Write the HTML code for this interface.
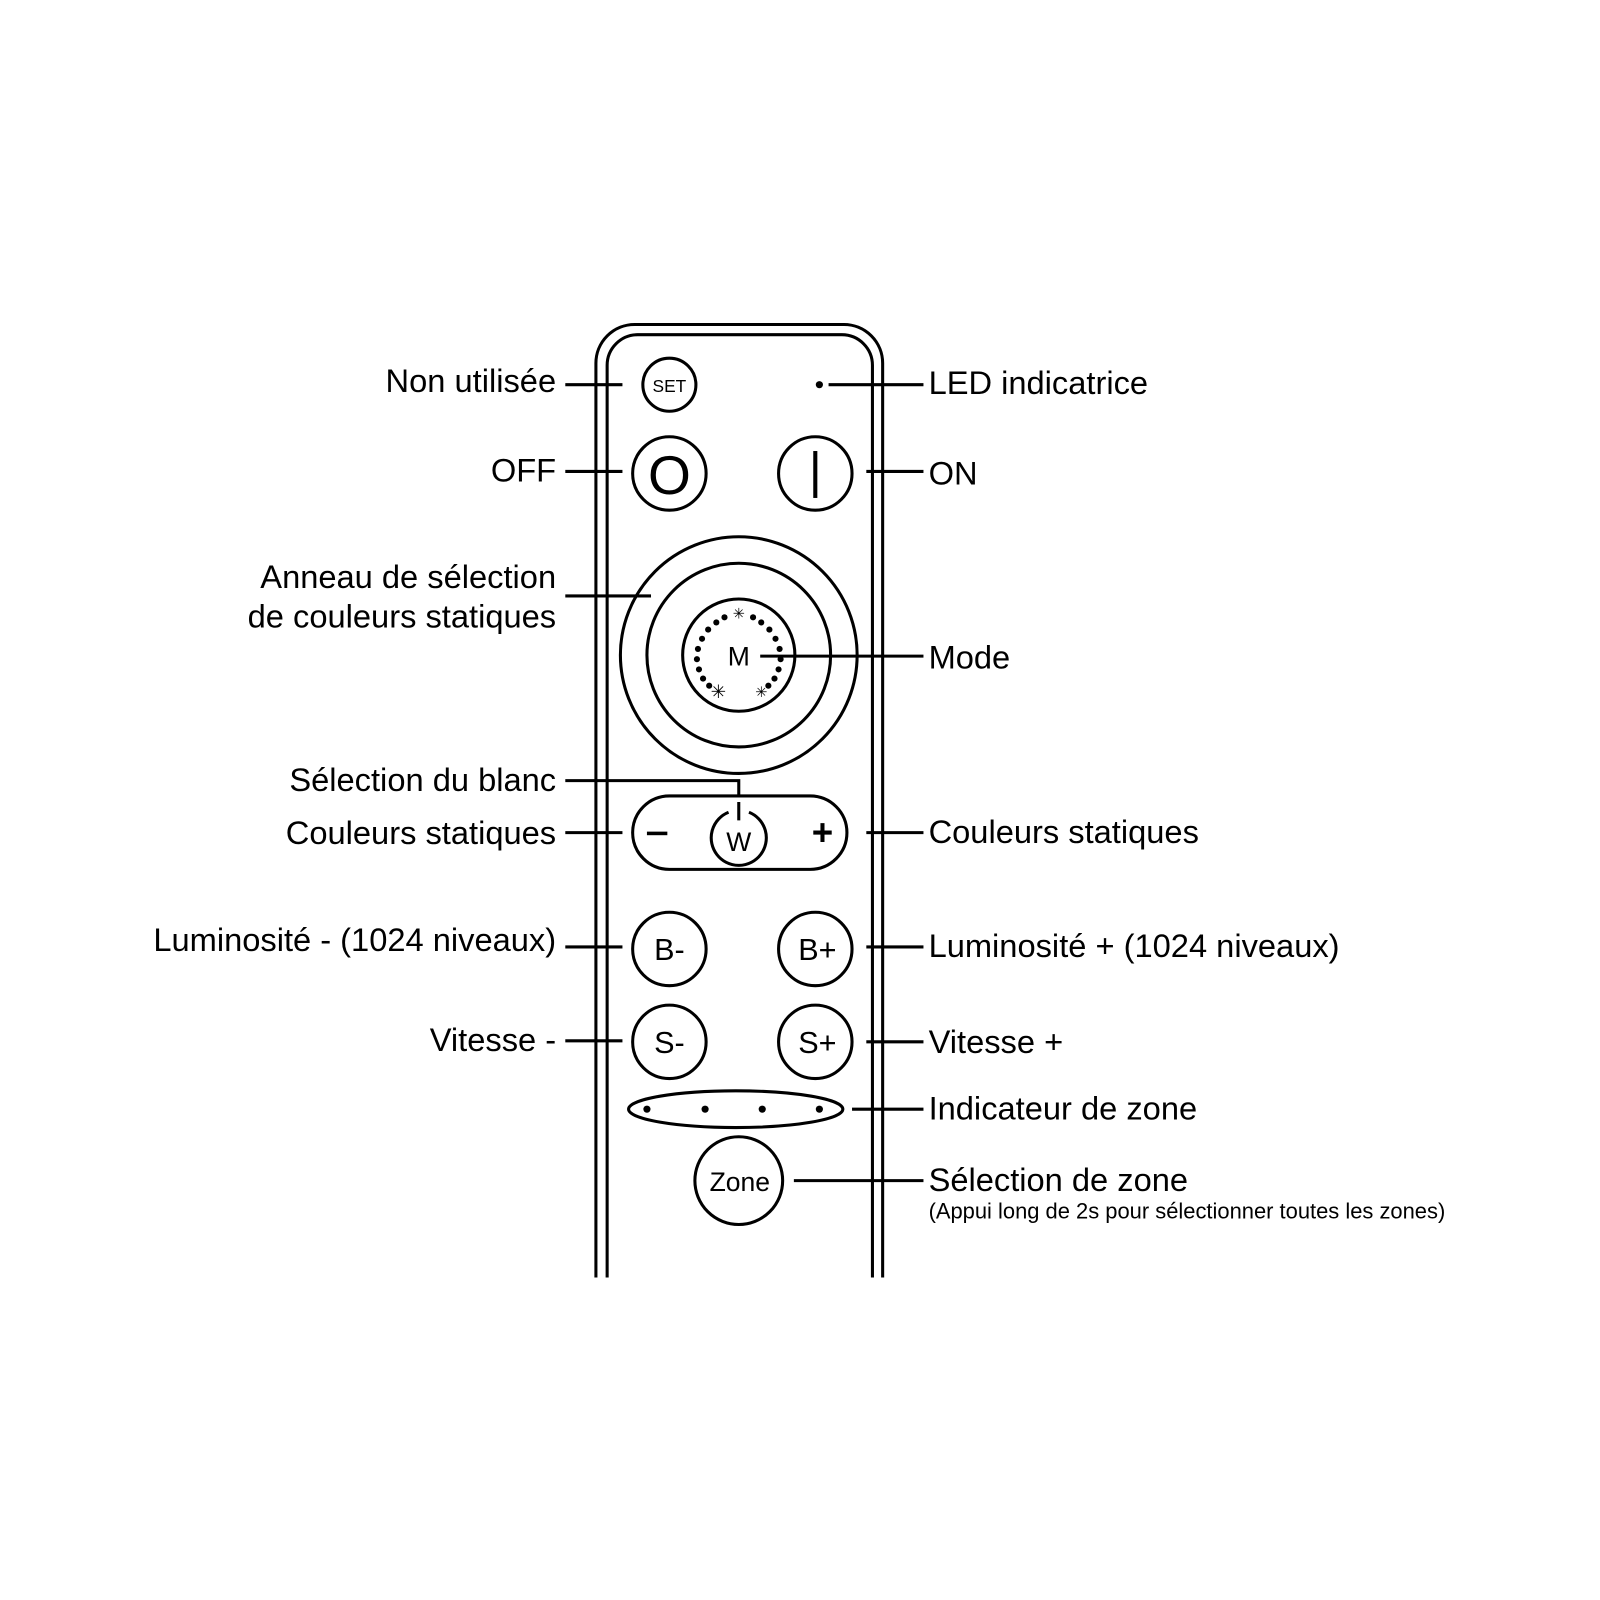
<!DOCTYPE html>
<html><head><style>body{margin:0;background:#fff}svg{display:block}text{font-family:"Liberation Sans",Arial,sans-serif;fill:#000}</style></head>
<body>
<svg width="1600" height="1600" viewBox="0 0 1600 1600" xmlns="http://www.w3.org/2000/svg">
<g transform="scale(1.0204)">
<g fill="none" stroke="#000" stroke-width="3">
<path d="M584 1252 V356 A38 38 0 0 1 622 318 H827 A38 38 0 0 1 865 356 V1252"/>
<path d="M595 1252 V358 A30 30 0 0 1 625 328 H825 A30 30 0 0 1 855 358 V1252"/>
<circle cx="656" cy="377" r="26"/>
<circle cx="656" cy="464" r="36"/>
<circle cx="799" cy="464" r="36"/>
<circle cx="724" cy="642" r="116"/>
<circle cx="724" cy="642" r="90"/>
<circle cx="724" cy="642" r="55"/>
<rect x="620" y="780" width="210" height="72" rx="36"/>
<path d="M714 796 A27 27 0 1 0 734 796"/>
<circle cx="656" cy="930" r="36"/>
<circle cx="799" cy="930" r="36"/>
<circle cx="656" cy="1021" r="36"/>
<circle cx="799" cy="1021" r="36"/>
<ellipse cx="721" cy="1087" rx="105" ry="18"/>
<circle cx="724" cy="1157" r="43"/>
<path d="M554 377H610M554 462H610M554 584H638M554 765H724V780M724 786V804M554 816H610M554 928H610M554 1020H610"/>
<path d="M812 377H905M849 462H905M745 643H905M849 816H905M849 928H905M849 1021H905M835 1087H905M778 1157H905"/>
</g>
<circle cx="803" cy="377" r="3.5"/>
<g>
<circle cx="634" cy="1087" r="3.5"/><circle cx="691" cy="1087" r="3.5"/><circle cx="747" cy="1087" r="3.5"/><circle cx="803" cy="1087" r="3.5"/>
</g>
<g fill="#000">
<circle cx="710" cy="605" r="3"/><circle cx="702" cy="610" r="3"/><circle cx="694" cy="617" r="3"/><circle cx="688" cy="626" r="3"/><circle cx="684" cy="636" r="3"/><circle cx="683" cy="646" r="3"/><circle cx="685" cy="656" r="3"/><circle cx="689" cy="665" r="3"/><circle cx="695" cy="672" r="3"/>
<circle cx="738" cy="605" r="3"/><circle cx="746" cy="610" r="3"/><circle cx="754" cy="617" r="3"/><circle cx="760" cy="626" r="3"/><circle cx="764" cy="636" r="3"/><circle cx="765" cy="646" r="3"/><circle cx="763" cy="656" r="3"/><circle cx="759" cy="665" r="3"/><circle cx="753" cy="672" r="3"/>
</g>
<text x="724" y="606" font-size="14" text-anchor="middle">✳</text>
<text x="704" y="684" font-size="18" text-anchor="middle">✳</text>
<text x="746" y="683" font-size="14" text-anchor="middle">✳</text>
<text x="724" y="652" font-size="26" text-anchor="middle">M</text>
<text x="656" y="384" font-size="17" text-anchor="middle">SET</text>
<text x="656" y="484" font-size="54" text-anchor="middle">O</text>
<rect x="797" y="442" width="4" height="46"/>
<rect x="634" y="815" width="20" height="3.5"/>
<text x="806" y="828" font-size="36" text-anchor="middle" font-weight="bold">+</text>
<text x="724" y="834" font-size="26" text-anchor="middle">W</text>
<text x="656" y="941" font-size="30" text-anchor="middle">B-</text>
<text x="801" y="941" font-size="30" text-anchor="middle">B+</text>
<text x="656" y="1032" font-size="30" text-anchor="middle">S-</text>
<text x="801" y="1032" font-size="30" text-anchor="middle">S+</text>
<text x="725" y="1167" font-size="26" text-anchor="middle">Zone</text>
<g font-size="32" text-anchor="end">
<text x="545" y="384">Non utilisée</text>
<text x="545" y="472">OFF</text>
<text x="545" y="576">Anneau de sélection</text>
<text x="545" y="615">de couleurs statiques</text>
<text x="545" y="775">Sélection du blanc</text>
<text x="545" y="827">Couleurs statiques</text>
<text x="545" y="932">Luminosité - (1024 niveaux)</text>
<text x="545" y="1030">Vitesse -</text>
</g>
<g font-size="32">
<text x="910" y="386">LED indicatrice</text>
<text x="910" y="475">ON</text>
<text x="910" y="655">Mode</text>
<text x="910" y="826">Couleurs statiques</text>
<text x="910" y="938">Luminosité + (1024 niveaux)</text>
<text x="910" y="1032">Vitesse +</text>
<text x="910" y="1097">Indicateur de zone</text>
<text x="910" y="1167">Sélection de zone</text>
<text x="910" y="1194" font-size="21.5">(Appui long de 2s pour sélectionner toutes les zones)</text>
</g>
</g>
</svg>
</body></html>
